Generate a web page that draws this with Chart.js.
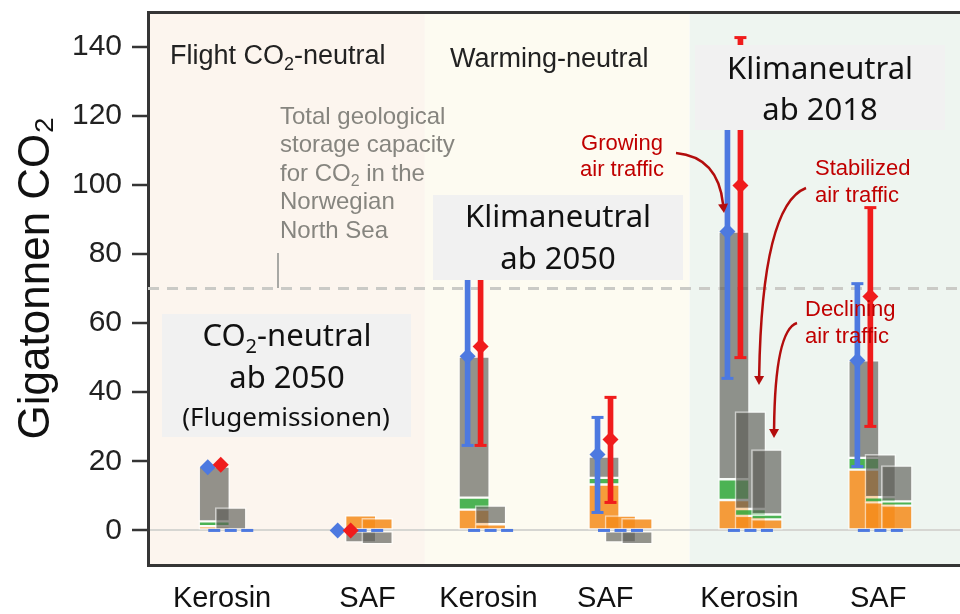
<!DOCTYPE html>
<html><head><meta charset="utf-8">
<script src="https://cdn.jsdelivr.net/npm/chart.js@4.4.1/dist/chart.umd.min.js"></script>
<style>html,body{margin:0;padding:0;background:#fff;}#wrap{width:960px;height:614px;position:relative;}</style>
</head><body><div id="wrap"><canvas id="c"></canvas></div>
<script>
// ---------- data ----------
const categories = ['Kerosin', 'SAF', 'Kerosin', 'SAF', 'Kerosin', 'SAF'];
const labelPositions = [0.57, 1.69, 2.62, 3.52, 4.63, 5.62];
const yTicks = [0, 20, 40, 60, 80, 100, 120, 140];
const storageCapacity = 70;

// stacked segment tops per sub-bar (growing / stabilized / declining air traffic)
const orangeGrowing    = [1.2, 0, 6.0, 13.3, 8.8, 17.6];
const greenGrowing     = [2.6, 0, 9.5, 15.2, 14.8, 21.0];
const totalGrowing     = [18.5, 0, 50.3, 21.4, 86.5, 49.2];
const negGrowing       = [0, 0, 0, 0, 0, 0];
const orangeStabilized = [0, 4.4, 1.8, 4.3, 4.2, 8.1];
const greenStabilized  = [0, 4.4, 1.8, 4.3, 6.2, 9.6];
const totalStabilized  = [6.6, 4.4, 7.2, 4.3, 34.4, 22.0];
const negStabilized    = [0, -3.5, 0, -3.5, 0, 0];
const orangeDeclining  = [0, 3.5, 0, 3.5, 3.2, 7.2];
const greenDeclining   = [0, 3.5, 0, 3.5, 4.6, 8.4];
const totalDeclining   = [0, 3.5, 0, 3.5, 23.4, 18.8];
const negDeclining     = [0, -4.0, 0, -4.0, 0, 0];
const zeroMarks        = [0, 0, 0, 0, 0, 0];

// diamonds with ranges
const blueMid  = [18.3, 0, 50.4, 22.0, 86.5, 49.2];
const blueLow  = [null, null, 24.6, 5.2, 44.0, 18.5];
const blueHigh = [null, null, 92, 32.7, 130, 71.4];
const redMid   = [19.0, 0, 53.2, 26.3, 99.8, 67.7];
const redLow   = [null, null, 24.6, 8.1, 50.0, 30.1];
const redHigh  = [null, null, 95, 38.5, 142.6, 93.4];

// ---------- layout ----------
const X_MIN = 0, X_MAX = 6.25;
const BAR_BASE = 0.51;
const SUB_OFFSET = [0, 0.127, 0.254];
const ERR_OFFSET = 0.05;
const GRAY = 'rgba(92,92,86,0.66)';
const ORANGE = 'rgba(244,140,28,0.86)';
const GREEN = 'rgba(62,172,70,0.92)';
const BLUE = '#4d79e0';
const RED = '#f01c1c';
const SANS = "'Liberation Sans', Arial, sans-serif";
const BOXFONT = "'Noto Sans', 'Open Sans', sans-serif";

function seg(lo, hi, sub) {
  const out = [];
  for (let i = 0; i < categories.length; i++) {
    if (hi[i] - lo[i] > 0.001) out.push({x: i + BAR_BASE + SUB_OFFSET[sub], y: [lo[i], hi[i]]});
  }
  return out;
}
const subBars = [
  {orange: orangeGrowing, green: greenGrowing, total: totalGrowing, neg: negGrowing},
  {orange: orangeStabilized, green: greenStabilized, total: totalStabilized, neg: negStabilized},
  {orange: orangeDeclining, green: greenDeclining, total: totalDeclining, neg: negDeclining}
];
const datasets = [];
datasets.push({type: 'line', data: [{x: X_MIN, y: storageCapacity}, {x: X_MAX, y: storageCapacity}],
  borderColor: '#cacac6', borderWidth: 3, borderDash: [11, 8], pointRadius: 0, order: 100});
subBars.forEach((s, k) => {
  const common = {type: 'bar', grouped: false, barThickness: 31, borderColor: 'rgba(255,255,255,0.55)',
    borderWidth: 1.5, borderSkipped: false, order: 50 - k * 10};
  datasets.push({...common, data: seg(zeroMarks, s.orange, k), backgroundColor: ORANGE});
  datasets.push({...common, data: seg(s.orange, s.green, k), backgroundColor: GREEN});
  datasets.push({...common, data: seg(s.green, s.total, k), backgroundColor: GRAY});
  datasets.push({...common, data: seg(s.neg, zeroMarks, k), backgroundColor: GRAY});
  datasets.push({type: 'line', showLine: false, order: 25,
    data: zeroMarks.map((v, i) => ({x: i + BAR_BASE + SUB_OFFSET[k], y: v})),
    pointStyle: 'line', pointRadius: 6, pointBorderWidth: 3, pointBorderColor: BLUE, borderColor: BLUE});
});
function rangeBars(lo, hi, off, color) {
  const d = [];
  lo.forEach((v, i) => { if (v !== null) d.push({x: i + BAR_BASE + off, y: [v, hi[i]]}); });
  return {type: 'bar', grouped: false, barThickness: 5, data: d, backgroundColor: color, borderWidth: 0, order: 20};
}
function caps(lo, hi, off, color) {
  const d = [];
  lo.forEach((v, i) => { if (v !== null) { d.push({x: i + BAR_BASE + off, y: v}); d.push({x: i + BAR_BASE + off, y: hi[i]}); } });
  return {type: 'line', showLine: false, data: d, pointStyle: 'line', pointRadius: 6, pointBorderWidth: 3,
    pointBorderColor: color, borderColor: color, order: 15};
}
function diamonds(mid, off, color, order) {
  return {type: 'line', showLine: false, data: mid.map((v, i) => ({x: i + BAR_BASE + off, y: v})),
    pointStyle: 'rectRot', pointRadius: 8, pointBackgroundColor: color, pointBorderWidth: 0, borderColor: color, order};
}
datasets.push(rangeBars(blueLow, blueHigh, -ERR_OFFSET, BLUE));
datasets.push(rangeBars(redLow, redHigh, ERR_OFFSET, RED));
datasets.push(caps(blueLow, blueHigh, -ERR_OFFSET, BLUE));
datasets.push(caps(redLow, redHigh, ERR_OFFSET, RED));
datasets.push(diamonds(redMid, ERR_OFFSET, RED, 9));
datasets.push(diamonds(blueMid, -ERR_OFFSET, BLUE, 10));

// ---------- helpers for annotation text ----------
function rich(ctx, str, x, y, align, size, family, color, maxW) {
  const parts = str.split(/(\{[^}]*\})/).filter(p => p.length).map(p => p[0] === '{' ? [p.slice(1, -1), true] : [p, false]);
  const fN = size + 'px ' + family, fS = Math.round(size * 0.65) + 'px ' + family;
  let total = 0;
  const w = parts.map(p => { ctx.font = p[1] ? fS : fN; const m = ctx.measureText(p[0]).width; total += m; return m; });
  const k = maxW && total > maxW ? maxW / total : 1;
  ctx.save();
  let sx = align === 'center' ? x - total * k / 2 : (align === 'right' ? x - total * k : x);
  ctx.translate(sx, y); ctx.scale(k, 1);
  ctx.fillStyle = color; ctx.textAlign = 'left'; ctx.textBaseline = 'alphabetic';
  let cx = 0;
  parts.forEach((p, i) => { ctx.font = p[1] ? fS : fN; ctx.fillText(p[0], cx, p[1] ? size * 0.22 : 0); cx += w[i]; });
  ctx.restore();
}
function arrow(ctx, x0, y0, cx, cy, x1, y1) {
  ctx.save();
  ctx.strokeStyle = '#b30d0d'; ctx.fillStyle = '#b30d0d'; ctx.lineWidth = 2.5;
  const a = Math.atan2(y1 - cy, x1 - cx);
  const bx = x1 - Math.cos(a) * 9, by = y1 - Math.sin(a) * 9;
  ctx.beginPath(); ctx.moveTo(x0, y0); ctx.quadraticCurveTo(cx, cy, bx, by); ctx.stroke();
  ctx.beginPath(); ctx.moveTo(x1, y1);
  ctx.lineTo(bx + Math.cos(a + Math.PI / 2) * 5, by + Math.sin(a + Math.PI / 2) * 5);
  ctx.lineTo(bx + Math.cos(a - Math.PI / 2) * 5, by + Math.sin(a - Math.PI / 2) * 5);
  ctx.closePath(); ctx.fill();
  ctx.restore();
}

const bandsPlugin = {
  id: 'bands',
  beforeDraw(chart) {
    const {ctx, chartArea: ca, scales: {x}} = chart;
    const bands = [[X_MIN, 2.131, '#fcf5ee'], [2.131, 4.169, '#fdfbf1'], [4.169, X_MAX, '#eef5f0']];
    ctx.save();
    bands.forEach(b => {
      const l = x.getPixelForValue(b[0]), r = x.getPixelForValue(b[1]);
      ctx.fillStyle = b[2]; ctx.fillRect(l, ca.top, r - l, ca.bottom - ca.top);
    });
    ctx.restore();
  }
};

const notesPlugin = {
  id: 'notes',
  afterDatasetsDraw(chart) {
    const {ctx, chartArea: ca} = chart;
    const L = ca.left - 148, T = ca.top - 12;
    const P = (px, py) => [px + L, py + T];
    ctx.save();
    // headers
    rich(ctx, 'Flight CO{2}-neutral', ...P(170, 64), 'left', 27, SANS, '#222', 236);
    rich(ctx, 'Warming-neutral', ...P(450, 67), 'left', 27, SANS, '#222', 212);
    // storage capacity note
    const g = '#86857f';
    ['Total geological', 'storage capacity', 'for CO{2} in the', 'Norwegian', 'North Sea'].forEach((t, i) => {
      rich(ctx, t, ...P(280, 124 + i * 28.4), 'left', 24, SANS, g);
    });
    ctx.strokeStyle = '#a8a8a4'; ctx.lineWidth = 2;
    ctx.beginPath(); ctx.moveTo(...P(278, 253)); ctx.lineTo(...P(278, 288)); ctx.stroke();
    // grey boxes
    ctx.fillStyle = '#f1f1f1';
    let p = P(695, 45); ctx.fillRect(p[0], p[1], 250, 85);
    p = P(433, 195); ctx.fillRect(p[0], p[1], 250, 85);
    p = P(162, 314); ctx.fillRect(p[0], p[1], 249, 123);
    rich(ctx, 'Klimaneutral', ...P(820, 79), 'center', 31, BOXFONT, '#111');
    rich(ctx, 'ab 2018', ...P(820, 120), 'center', 31, BOXFONT, '#111');
    rich(ctx, 'Klimaneutral', ...P(558, 227), 'center', 31, BOXFONT, '#111');
    rich(ctx, 'ab 2050', ...P(558, 269), 'center', 31, BOXFONT, '#111');
    rich(ctx, 'CO{2}-neutral', ...P(287, 346), 'center', 31, BOXFONT, '#111');
    rich(ctx, 'ab 2050', ...P(287, 388), 'center', 31, BOXFONT, '#111');
    rich(ctx, '(Flugemissionen)', ...P(286, 426), 'center', 26, BOXFONT, '#111');
    // red notes
    const rc = '#c00000';
    rich(ctx, 'Growing', ...P(622, 150), 'center', 22, SANS, rc);
    rich(ctx, 'air traffic', ...P(622, 176), 'center', 22, SANS, rc);
    rich(ctx, 'Stabilized', ...P(815, 175), 'left', 22, SANS, rc);
    rich(ctx, 'air traffic', ...P(815, 202), 'left', 22, SANS, rc);
    rich(ctx, 'Declining', ...P(805, 316), 'left', 22, SANS, rc);
    rich(ctx, 'air traffic', ...P(805, 343), 'left', 22, SANS, rc);
    arrow(ctx, ...P(676, 153), ...P(718, 157), ...P(724, 213));
    arrow(ctx, ...P(806, 188), ...P(762, 205), ...P(759, 385));
    arrow(ctx, ...P(797, 323), ...P(775, 330), ...P(774, 438));
    ctx.restore();
  }
};

const FRAME = '#353535';
new Chart(document.getElementById('c'), {
  type: 'bar',
  data: {datasets},
  options: {
    responsive: true, maintainAspectRatio: false, animation: false, events: [],
    layout: {padding: 0, autoPadding: false},
    plugins: {legend: {display: false}, tooltip: {enabled: false}},
    scales: {
      x: {
        type: 'linear', min: X_MIN, max: X_MAX, offset: false,
        grid: {display: false, drawTicks: false, offset: false},
        border: {display: true, color: FRAME, width: 3},
        afterBuildTicks(axis) { axis.ticks = labelPositions.map(v => ({value: v})); },
        afterFit(axis) { axis.height = 49; axis.paddingLeft = 0; axis.paddingRight = 0; },
        ticks: {autoSkip: false, maxRotation: 0, padding: 17, color: '#111',
          font: {size: 29, family: "'Liberation Sans Narrow', 'Arial Narrow', 'Liberation Sans', sans-serif"},
          callback: (v, i) => categories[i]}
      },
      x2: {
        type: 'linear', position: 'top', min: X_MIN, max: X_MAX, offset: false,
        grid: {display: false, drawTicks: false}, ticks: {display: false},
        border: {display: true, color: FRAME, width: 3},
        afterFit(axis) { axis.height = 12; axis.paddingLeft = 0; axis.paddingRight = 0; }
      },
      y: {
        type: 'linear', min: -10, max: 150,
        afterBuildTicks(axis) { axis.ticks = yTicks.map(v => ({value: v})); },
        afterFit(axis) { axis.width = 148; axis.paddingTop = 0; axis.paddingBottom = 0; },
        grid: {drawOnChartArea: true, drawTicks: true, tickLength: 16, tickWidth: 2.5, tickColor: FRAME,
          color: c => (c.tick && c.tick.value === 0) ? '#d6d6d2' : 'rgba(0,0,0,0)', lineWidth: 2},
        border: {display: true, color: FRAME, width: 3},
        ticks: {padding: 10, color: '#222', font: {size: 30, family: SANS}},
        title: {display: true, text: '\u00A0\u2009Gigatonnen CO₂', color: '#111', font: {size: 44, family: SANS}, padding: {top: 10, bottom: 0}}
      }
    }
  },
  plugins: [bandsPlugin, notesPlugin]
});
</script></body></html>
